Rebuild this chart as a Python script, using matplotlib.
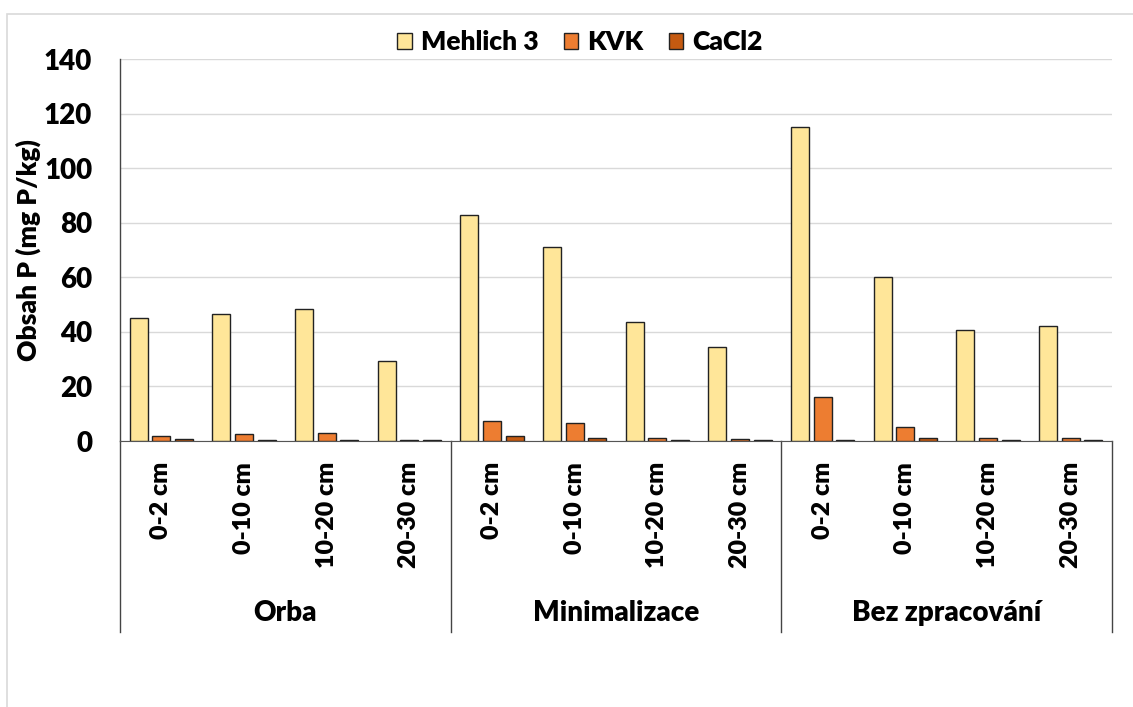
import matplotlib.pyplot as plt
import numpy as np
from matplotlib.patches import Rectangle

plt.rcParams['font.family'] = ['Lato', 'DejaVu Sans']
plt.rcParams['font.weight'] = 'heavy'

depths = ["0-2 cm", "0-10 cm", "10-20 cm", "20-30 cm"]
groups = ["Orba", "Minimalizace", "Bez zpracování"]
series = ["Mehlich 3", "KVK", "CaCl2"]
mehlich = [45, 46.5, 48.5, 29.5, 83, 71, 43.5, 34.5, 115, 60, 40.5, 42]
kvk = [2, 2.5, 3, 0.3, 7.5, 6.5, 1.2, 0.8, 16, 5, 1.2, 1.2]
cacl2 = [0.8, 0.3, 0.3, 0.3, 2, 1.2, 0.3, 0.3, 0.3, 1.2, 0.3, 0.3]
colors = ["#FFE699", "#ED7D31", "#C55A11"]

fig = plt.figure(figsize=(11.33, 7.07), dpi=100)
fig.patches.append(Rectangle((7/1133, -0.1), 1.2, (700-7)/707 + 0.1,
                             transform=fig.transFigure, fill=False,
                             edgecolor="#D9D9D9", linewidth=1.2))
ax = fig.add_axes([120/1133, (707-441)/707, (1112-120)/1133, (441-59)/707])

x = np.arange(len(mehlich))
w = 0.22
off = 0.275
for i, (vals, c, name) in enumerate(zip([mehlich, kvk, cacl2], colors, series)):
    ax.bar(x + (i - 1) * off, vals, width=w, color=c, edgecolor="#222222",
           linewidth=1.0, label=name, zorder=3)

ax.set_xlim(-0.5, 11.5)
ax.set_ylim(0, 140)
ax.set_yticks(range(0, 141, 20))
ax.tick_params(axis='y', length=0, labelsize=20, pad=20)
ax.grid(axis='y', color="#D9D9D9", linewidth=1.0, zorder=0)
ax.set_axisbelow(True)

ax.set_xticks(x)
ax.set_xticklabels(depths * 3, rotation=90, fontsize=18, va='top')
ax.tick_params(axis='x', length=0, pad=15)

for s in ['top', 'right']:
    ax.spines[s].set_visible(False)
ax.spines['left'].set_color("#444444")
ax.spines['bottom'].set_color("#555555")
ax.spines['left'].set_linewidth(1.0)

drop = (632 - 441) / (441 - 59)
for xs in [-0.5, 3.5, 7.5, 11.5]:
    ax.plot([xs, xs], [0, -drop], transform=ax.get_xaxis_transform(),
            color="#444444", linewidth=1.0, clip_on=False)
for gi, g in enumerate(groups):
    ax.text(gi * 4 + 1.5, -(613 - 441) / (441 - 59), g, transform=ax.get_xaxis_transform(),
            ha='center', va='center', fontsize=20)

ax.set_ylabel("Obsah P (mg P/kg)", fontsize=19, fontweight='heavy', labelpad=2)

fig.legend(loc='center', bbox_to_anchor=(580/1133, 1 - 42/707), ncol=3, frameon=False,
           fontsize=19, handlelength=0.55, handleheight=0.55, handletextpad=0.35,
           columnspacing=0.95)

fig.savefig("out.png", dpi=100)
